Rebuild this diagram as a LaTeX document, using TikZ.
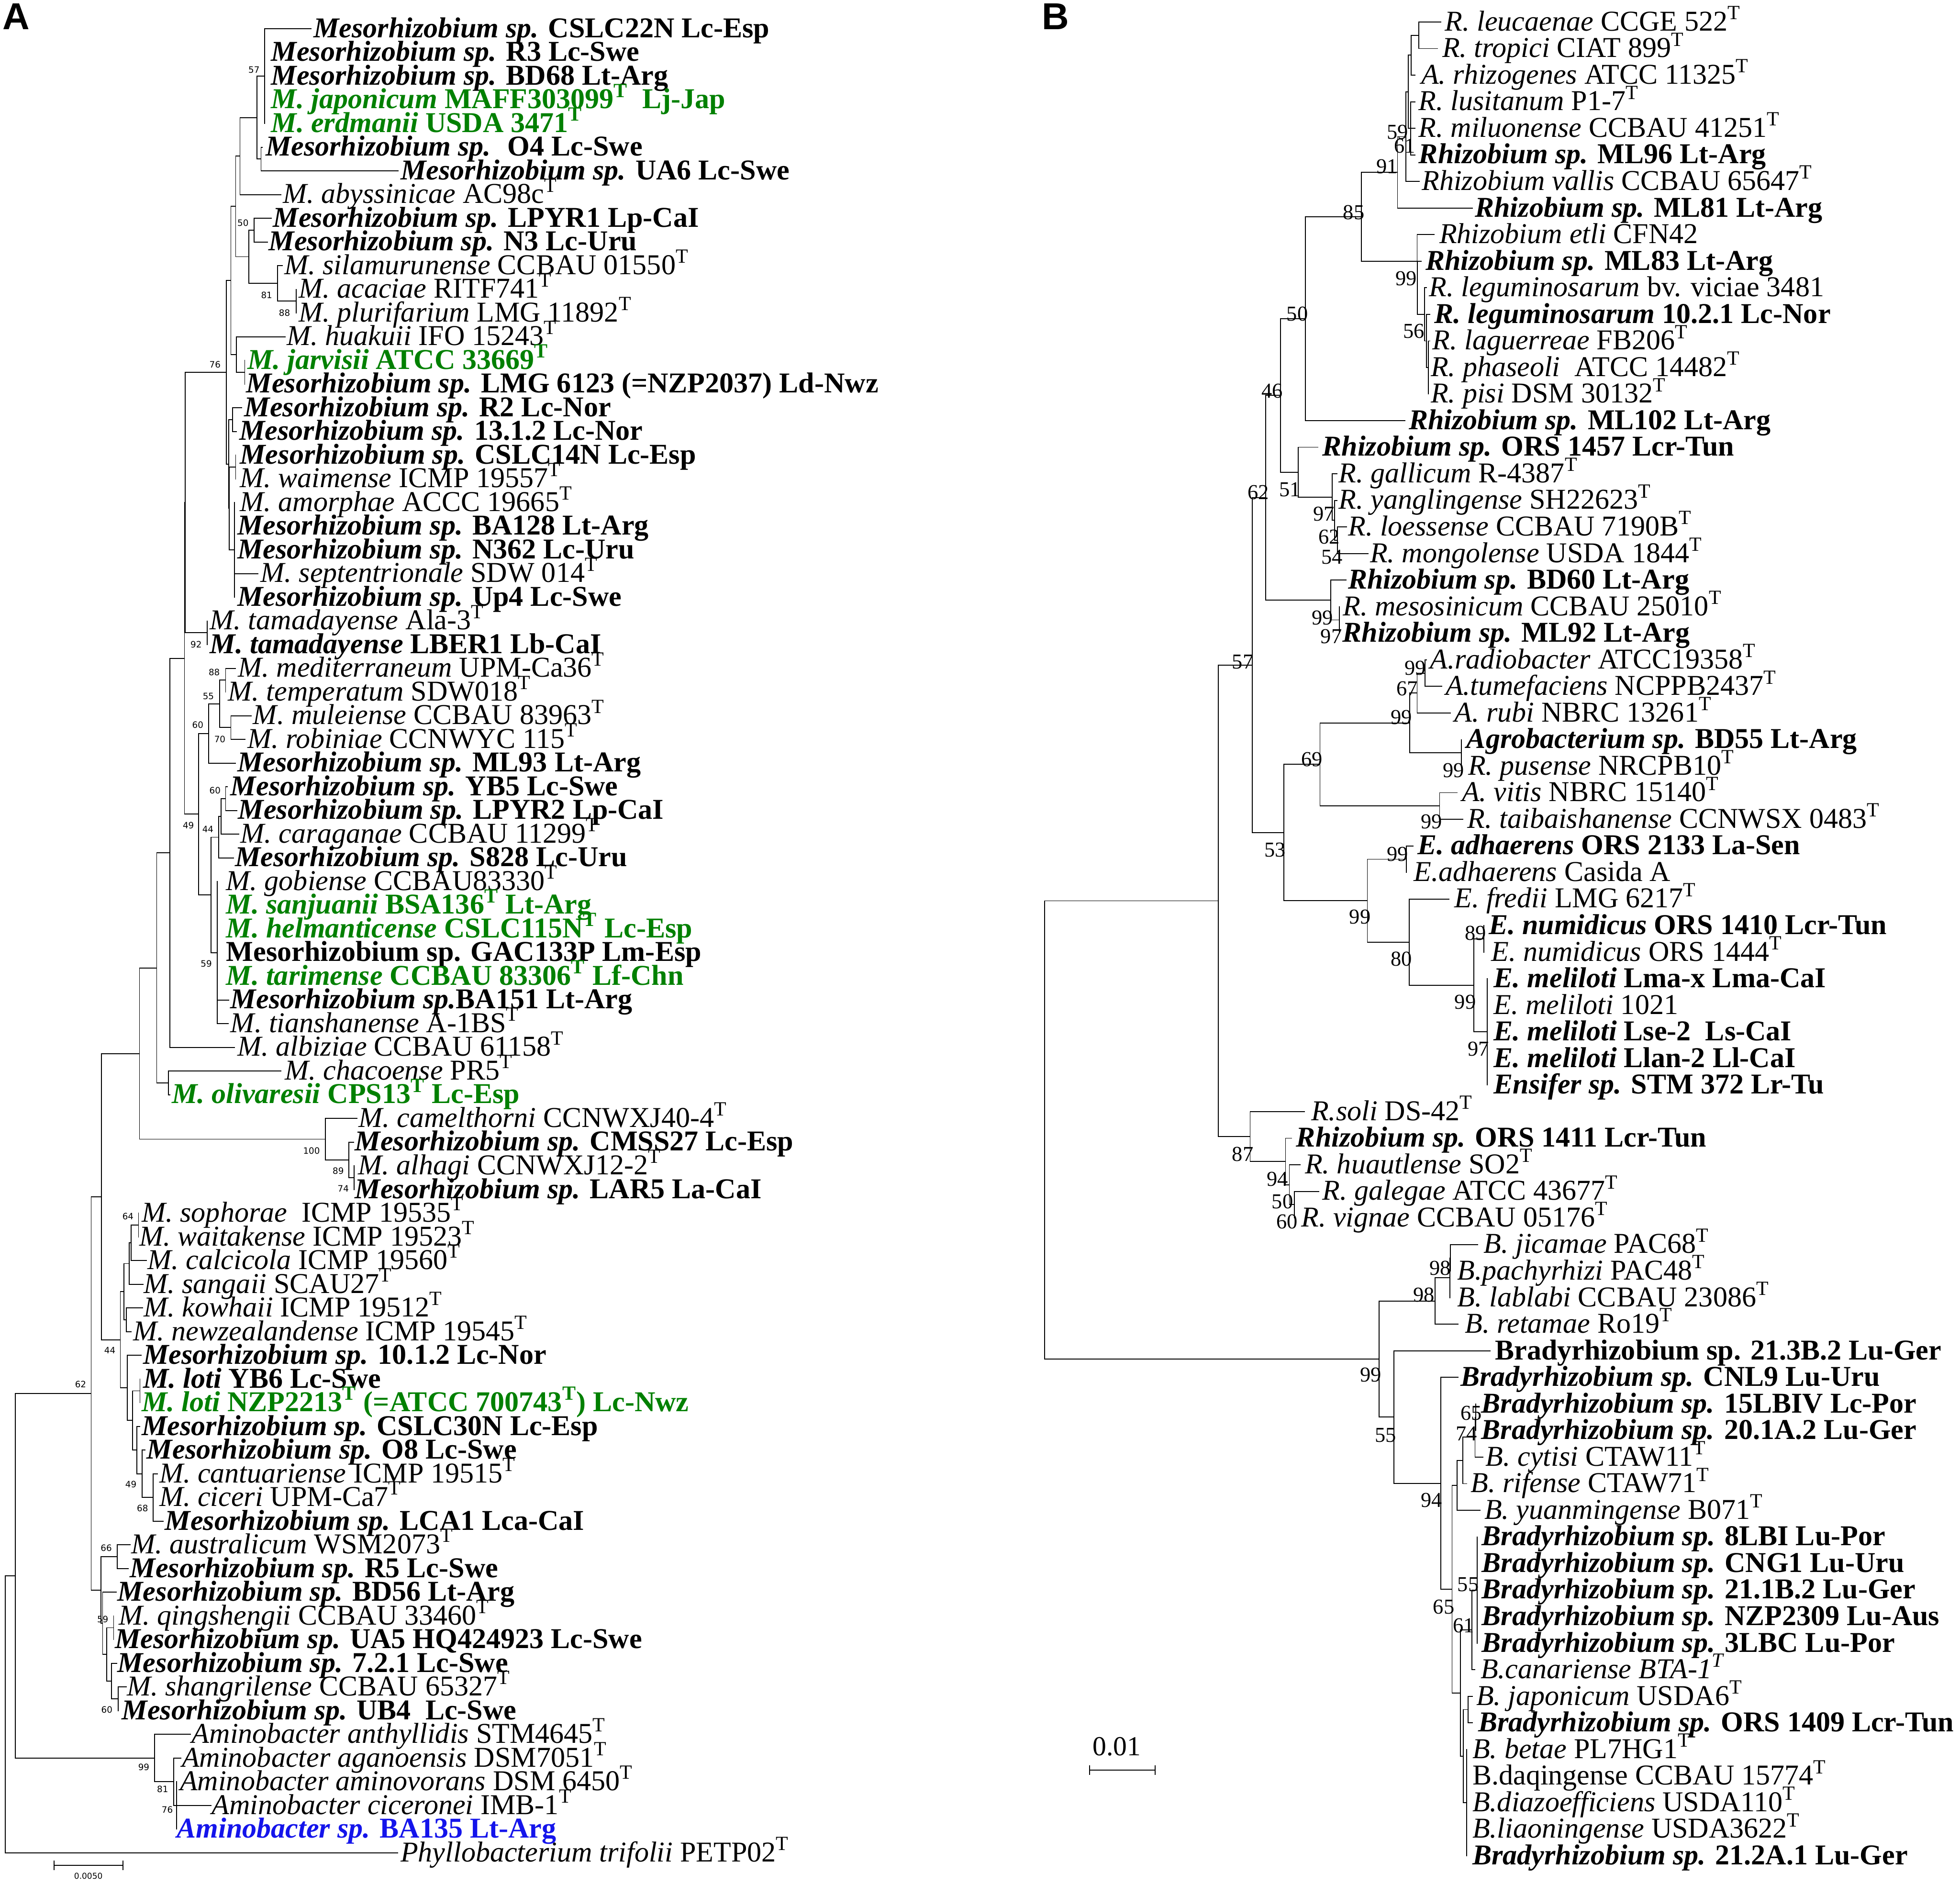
\documentclass[tikz,border=0pt]{standalone}
\usepackage{fontspec}
\setmainfont{Liberation Serif}
\newfontfamily\bsfont{DejaVu Sans}
\newfontfamily\hdfont{Liberation Sans}
\definecolor{lgreen}{RGB}{0,128,0}
\definecolor{lblue}{RGB}{20,20,235}
\newcommand\supT{\textsuperscript{T}}
\newcommand\mzsp[1]{\textbf{\textit{Mesorhizobium sp.} #1}}
\newcommand\rzsp[1]{\textbf{\textit{Rhizobium sp.} #1}}
\newcommand\bzsp[1]{\textbf{\textit{Bradyrhizobium sp.} #1}}
\newcommand\tleaf[5]{\coordinate (#1) at (#2,#3); \node[lbl] (#1l) at (#4,#3) {#5};}
\newcommand\brch[2]{\foreach \cc in {#2}{\draw[br] (#1) |- (\cc);}}
\tikzset{
 lbl/.style={anchor=base west, inner sep=0pt, outer sep=0pt, yshift=-7pt, font=\fontsize{23}{23}\selectfont},
 br/.style={line width=0.7pt, line cap=rect},
 bsa/.style={inner sep=0pt, font=\bsfont\fontsize{7}{7}\selectfont},
 bsb/.style={inner sep=0pt, font=\fontsize{17}{17}\selectfont},
}
\begin{document}
\begin{tikzpicture}[x=1pt,y=-1pt]
\useasboundingbox (0,0) rectangle (1568,1507);
\fill[white] (0,0) rectangle (1568,1507);
% ---------------- panel letters
\node[inner sep=0pt, font=\hdfont\bfseries\fontsize{30}{30}\selectfont] (pA) at (13,13.4) {A};
\node[inner sep=0pt, font=\hdfont\bfseries\fontsize{30}{30}\selectfont] (pB) at (844.5,13.4) {B};
% ================= PANEL A leaves
\tleaf{a1}{249}{23}{250.8}{\mzsp{CSLC22N Lc-Esp}}
\tleaf{a2}{211.6}{41.95}{217}{\mzsp{R3 Lc-Swe}}
\tleaf{a3}{211.6}{60.9}{217}{\mzsp{BD68 Lt-Arg}}
\tleaf{a4}{211.6}{79.85}{217}{\textcolor{lgreen}{\textbf{\textit{M. japonicum} MAFF303099\supT\ \ Lj-Jap}}}
\tleaf{a5}{211.6}{98.8}{217}{\textcolor{lgreen}{\textbf{\textit{M. erdmanii} USDA 3471\supT}}}
\tleaf{a6}{210}{117.75}{212.5}{\mzsp{\ O4 Lc-Swe}}
\tleaf{a7}{318.5}{136.7}{320.5}{\mzsp{UA6 Lc-Swe}}
\tleaf{a8}{224.7}{155.65}{226.5}{\textit{M. abyssinicae} AC98c\supT}
\tleaf{a9}{217}{174.6}{218.5}{\mzsp{LPYR1 Lp-CaI}}
\tleaf{a10}{214}{193.55}{215}{\mzsp{N3 Lc-Uru}}
\tleaf{a11}{226}{212.5}{227.5}{\textit{M. silamurunense} CCBAU 01550\supT}
\tleaf{a12}{236.9}{231.45}{239}{\textit{M. acaciae} RITF741\supT}
\tleaf{a13}{236.9}{250.4}{239}{\textit{M. plurifarium} LMG 11892\supT}
\tleaf{a14}{228}{269.35}{229.5}{\textit{M. huakuii} IFO 15243\supT}
\tleaf{a15}{195.8}{288.3}{198}{\textcolor{lgreen}{\textbf{\textit{M. jarvisii} ATCC 33669\supT}}}
\tleaf{a16}{195.8}{307.25}{197}{\mzsp{LMG 6123 (=NZP2037) Ld-Nwz}}
\tleaf{a17}{193.5}{326.2}{195.5}{\mzsp{R2 Lc-Nor}}
\tleaf{a18}{189}{345.15}{191.5}{\mzsp{13.1.2 Lc-Nor}}
\tleaf{a19}{188.5}{364.1}{192}{\mzsp{CSLC14N Lc-Esp}}
\tleaf{a20}{188.5}{383.05}{192}{\textit{M. waimense} ICMP 19557\supT}
\tleaf{a21}{187.7}{402}{192}{\textit{M. amorphae} ACCC 19665\supT}
\tleaf{a22}{187.7}{420.95}{190}{\mzsp{BA128 Lt-Arg}}
\tleaf{a23}{187.7}{439.9}{190}{\mzsp{N362 Lc-Uru}}
\tleaf{a24}{206.4}{458.85}{208.5}{\textit{M. septentrionale} SDW 014\supT}
\tleaf{a25}{187.7}{477.8}{190}{\mzsp{Up4 Lc-Swe}}
\tleaf{a26}{165.8}{496.75}{168}{\textit{M. tamadayense} Ala-3\supT}
\tleaf{a27}{165.8}{515.7}{168}{\textbf{\textit{M. tamadayense} LBER1 Lb-CaI}}
\tleaf{a28}{188.5}{534.65}{190.5}{\textit{M. mediterraneum} UPM-Ca36\supT}
\tleaf{a29}{180.5}{553.6}{182.5}{\textit{M. temperatum} SDW018\supT}
\tleaf{a30}{201}{572.55}{202.5}{\textit{M. muleiense} CCBAU 83963\supT}
\tleaf{a31}{196}{591.5}{198}{\textit{M. robiniae} CCNWYC 115\supT}
\tleaf{a32}{188.5}{610.45}{190}{\mzsp{ML93 Lt-Arg}}
\tleaf{a33}{182}{629.4}{184.5}{\mzsp{YB5 Lc-Swe}}
\tleaf{a34}{189.4}{648.35}{190.5}{\mzsp{LPYR2 Lp-CaI}}
\tleaf{a35}{191}{667.3}{192.5}{\textit{M. caraganae} CCBAU 11299\supT}
\tleaf{a36}{186.9}{686.25}{188}{\mzsp{S828 Lc-Uru}}
\tleaf{a37}{173.7}{705.2}{181}{\textit{M. gobiense} CCBAU83330\supT}
\tleaf{a38}{173.7}{724.15}{181}{\textcolor{lgreen}{\textbf{\textit{M. sanjuanii} BSA136\supT\ Lt-Arg}}}
\tleaf{a39}{173.7}{743.1}{181}{\textcolor{lgreen}{\textbf{\textit{M. helmanticense} CSLC115N\supT\ Lc-Esp}}}
\tleaf{a40}{173.7}{762.05}{181}{\textbf{Mesorhizobium sp. GAC133P Lm-Esp}}
\tleaf{a41}{173.7}{781}{181}{\textcolor{lgreen}{\textbf{\textit{M. tarimense} CCBAU 83306\supT\ Lf-Chn}}}
\tleaf{a42}{183}{799.95}{184.5}{\textbf{\textit{Mesorhizobium sp.}BA151 Lt-Arg}}
\tleaf{a43}{182.5}{818.9}{184.5}{\textit{M. tianshanense} A-1BS\supT}
\tleaf{a44}{187.7}{837.85}{190}{\textit{M. albiziae} CCBAU 61158\supT}
\tleaf{a45}{224.7}{856.8}{228}{\textit{M. chacoense} PR5\supT}
\tleaf{a46}{136}{875.75}{137.5}{\textcolor{lgreen}{\textbf{\textit{M. olivaresii} CPS13\supT\ Lc-Esp}}}
\tleaf{a47}{285.5}{894.7}{287}{\textit{M. camelthorni} CCNWXJ40-4\supT}
\tleaf{a48}{283}{913.65}{284}{\mzsp{CMSS27 Lc-Esp}}
\tleaf{a49}{283.2}{932.6}{286.5}{\textit{M. alhagi} CCNWXJ12-2\supT}
\tleaf{a50}{283.2}{951.55}{284}{\mzsp{LAR5 La-CaI}}
\tleaf{a51}{110.8}{970.5}{113.5}{\textit{M. sophorae}\ \ ICMP 19535\supT}
\tleaf{a52}{110.8}{989.45}{111.5}{\textit{M. waitakense} ICMP 19523\supT}
\tleaf{a53}{117}{1008.4}{118}{\textit{M. calcicola} ICMP 19560\supT}
\tleaf{a54}{114.5}{1027.35}{115}{\textit{M. sangaii} SCAU27\supT}
\tleaf{a55}{114}{1046.3}{115}{\textit{M. kowhaii} ICMP 19512\supT}
\tleaf{a56}{105}{1065.25}{106.5}{\textit{M. newzealandense} ICMP 19545\supT}
\tleaf{a57}{113}{1084.2}{114.5}{\mzsp{10.1.2 Lc-Nor}}
\tleaf{a58}{112}{1103.15}{114.5}{\textbf{\textit{M. loti} YB6 Lc-Swe}}
\tleaf{a59}{112}{1122.1}{113.5}{\textcolor{lgreen}{\textbf{\textit{M. loti} NZP2213\supT\ (=ATCC 700743\supT) Lc-Nwz}}}
\tleaf{a60}{112}{1141.05}{113.5}{\mzsp{CSLC30N Lc-Esp}}
\tleaf{a61}{116}{1160}{117.5}{\mzsp{O8 Lc-Swe}}
\tleaf{a62}{126}{1178.95}{127.5}{\textit{M. cantuariense} ICMP 19515\supT}
\tleaf{a63}{122.6}{1197.9}{127.5}{\textit{M. ciceri} UPM-Ca7\supT}
\tleaf{a64}{130.5}{1216.85}{132}{\mzsp{LCA1 Lca-CaI}}
\tleaf{a65}{104}{1235.8}{105}{\textit{M. australicum} WSM2073\supT}
\tleaf{a66}{102.7}{1254.75}{104}{\mzsp{R5 Lc-Swe}}
\tleaf{a67}{93}{1273.7}{94}{\mzsp{BD56 Lt-Arg}}
\tleaf{a68}{90.9}{1292.65}{95}{\textit{M. qingshengii} CCBAU 33460\supT}
\tleaf{a69}{90.9}{1311.6}{92}{\mzsp{UA5 HQ424923 Lc-Swe}}
\tleaf{a70}{93.4}{1330.55}{94}{\mzsp{7.2.1 Lc-Swe}}
\tleaf{a71}{101}{1349.5}{101.5}{\textit{M. shangrilense} CCBAU 65327\supT}
\tleaf{a72}{94.6}{1368.45}{97.5}{\mzsp{UB4\ \ Lc-Swe}}
\tleaf{a73}{152.4}{1387.4}{153.5}{\textit{Aminobacter anthyllidis} STM4645\supT}
\tleaf{a74}{144.8}{1406.35}{145.5}{\textit{Aminobacter aganoensis} DSM7051\supT}
\tleaf{a75}{141.4}{1425.3}{144}{\textit{Aminobacter aminovorans} DSM 6450\supT}
\tleaf{a76}{169}{1444.25}{169.5}{\textit{Aminobacter ciceronei} IMB-1\supT}
\tleaf{a77}{141.4}{1463.2}{141.5}{\textcolor{lblue}{\textbf{\textit{Aminobacter sp.} BA135 Lt-Arg}}}
\tleaf{a78}{318}{1482.15}{320.5}{\textit{Phyllobacterium trifolii} PETP02\supT}
% ---------------- panel A internal nodes
\coordinate (aN57a) at (211.6,60.9);
\coordinate (aN57b) at (208.8,127.2);
\coordinate (aN57) at (205.7,94.05);
\coordinate (aN3) at (192,124.85);
\coordinate (aN50) at (203.4,184.08);
\coordinate (aN88) at (236.9,240.93);
\coordinate (aN81) at (222,226.7);
\coordinate (aN199) at (199,205.4);
\coordinate (aN4) at (188.5,165.1);
\coordinate (aNjv) at (195.8,297.8);
\coordinate (aNhk) at (189.1,283.6);
\coordinate (aN5) at (184.7,224.35);
\coordinate (aN1718) at (186.2,335.7);
\coordinate (aN1920) at (188.5,373.6);
\coordinate (aNbig) at (187.7,439.9);
\coordinate (aNQ1) at (183.3,406.75);
\coordinate (aNQ2) at (183.0,371.2);
\coordinate (aN76) at (181,297.8);
\coordinate (aN92) at (165.8,506.2);
\coordinate (aNX1) at (148.1,402.0);
\coordinate (aN88b) at (180.5,544.1);
\coordinate (aN70) at (184.7,582.0);
\coordinate (aN55) at (175.6,563.05);
\coordinate (aN60a) at (167,586.75);
\coordinate (aN60b) at (180.5,638.9);
\coordinate (aN177) at (177,653.1);
\coordinate (aN175) at (175,669.7);
\coordinate (aN59) at (173.7,762.05);
\coordinate (aN44a) at (168.7,715.9);
\coordinate (aN49) at (159,651.3);
\coordinate (aNX2) at (147.6,526.65);
\coordinate (aN136) at (136,682.25);
\coordinate (aN134) at (134.7,866.3);
\coordinate (aN125) at (125.4,774.3);
\coordinate (aN74) at (283.2,942.1);
\coordinate (aN89) at (279.1,927.9);
\coordinate (aN100) at (260.3,911.3);
\coordinate (aN111) at (111.6,842.8);
\coordinate (aN64) at (110.8,980.0);
\coordinate (aN105) at (104.9,994.2);
\coordinate (aN103) at (103.2,1010.8);
\coordinate (aN101) at (101,1055.8);
\coordinate (aN99) at (99,1033.3);
\coordinate (aN112) at (112,1112.6);
\coordinate (aNccm) at (122.6,1197.9);
\coordinate (aN113) at (113.6,1178.95);
\coordinate (aN109) at (109.4,1160.0);
\coordinate (aN106) at (106,1136.3);
\coordinate (aN102) at (101.9,1110.25);
\coordinate (aN44b) at (96.3,1071.8);
\coordinate (aN81b) at (81.3,957.3);
\coordinate (aN66) at (93.8,1245.3);
\coordinate (aND) at (90.9,1302.1);
\coordinate (aNF) at (94.6,1359.0);
\coordinate (aNE) at (89.2,1344.8);
\coordinate (aNC) at (85.5,1323.45);
\coordinate (aNB) at (82.1,1298.6);
\coordinate (aNA) at (80.8,1271.95);
\coordinate (aN62) at (72.9,1114.6);
\coordinate (aN76c) at (141.4,1444.25);
\coordinate (aN81c) at (138.9,1425.3);
\coordinate (aN99c) at (123.7,1406.35);
\coordinate (aN12) at (12.3,1260.5);
\coordinate (aRoot) at (4.2,1371.3);
% ---------------- panel A branches
\brch{aN57a}{a1,a2,a3,a4,a5}
\brch{aN57b}{a6,a7}
\brch{aN57}{aN57a,aN57b}
\brch{aN3}{aN57,a8}
\brch{aN50}{a9,a10}
\brch{aN88}{a12,a13}
\brch{aN81}{a11,aN88}
\brch{aN199}{aN50,aN81}
\brch{aN4}{aN3,aN199}
\brch{aNjv}{a15,a16}
\brch{aNhk}{a14,aNjv}
\brch{aN5}{aN4,aNhk}
\brch{aN1718}{a17,a18}
\brch{aN1920}{a19,a20}
\brch{aNbig}{a21,a22,a23,a24,a25}
\brch{aNQ1}{aN1920,aNbig}
\brch{aNQ2}{aN1718,aNQ1}
\brch{aN76}{aN5,aNQ2}
\brch{aN92}{a26,a27}
\brch{aNX1}{aN76,aN92}
\brch{aN88b}{a28,a29}
\brch{aN70}{a30,a31}
\brch{aN55}{aN88b,aN70}
\brch{aN60a}{aN55,a32}
\brch{aN60b}{a33,a34}
\brch{aN177}{aN60b,a35}
\brch{aN175}{aN177,a36}
\brch{aN59}{a37,a38,a39,a40,a41,a42,a43}
\brch{aN44a}{aN175,aN59}
\brch{aN49}{aN60a,aN44a}
\brch{aNX2}{aNX1,aN49}
\brch{aN136}{aNX2,a44}
\brch{aN134}{a45,a46}
\brch{aN125}{aN136,aN134}
\brch{aN74}{a49,a50}
\brch{aN89}{a48,aN74}
\brch{aN100}{a47,aN89}
\brch{aN111}{aN125,aN100}
\brch{aN64}{a51,a52}
\brch{aN105}{aN64,a53}
\brch{aN103}{aN105,a54}
\brch{aN101}{a55,a56}
\brch{aN99}{aN103,aN101}
\brch{aN112}{a58,a59}
\brch{aNccm}{a62,a63,a64}
\brch{aN113}{a61,aNccm}
\brch{aN109}{a60,aN113}
\brch{aN106}{aN112,aN109}
\brch{aN102}{a57,aN106}
\brch{aN44b}{aN99,aN102}
\brch{aN81b}{aN111,aN44b}
\brch{aN66}{a65,a66}
\brch{aND}{a68,a69}
\brch{aNF}{a71,a72}
\brch{aNE}{a70,aNF}
\brch{aNC}{aND,aNE}
\brch{aNB}{a67,aNC}
\brch{aNA}{aN66,aNB}
\brch{aN62}{aN81b,aNA}
\brch{aN76c}{a75,a76,a77}
\brch{aN81c}{a74,aN76c}
\brch{aN99c}{a73,aN81c}
\brch{aN12}{aN62,aN99c}
\brch{aRoot}{aN12,a78}
% ---------------- panel A bootstrap values
\node[bsa] (sa1) at (203.2,55.7) {57};
\node[bsa] (sa2) at (194.4,178.2) {50};
\node[bsa] (sa3) at (213.3,236.3) {81};
\node[bsa] (sa4) at (227.6,250.2) {88};
\node[bsa] (sa5) at (172,291.7) {76};
\node[bsa] (sa6) at (156.9,515.4) {92};
\node[bsa] (sa7) at (171.4,537.6) {88};
\node[bsa] (sa8) at (166.7,556.9) {55};
\node[bsa] (sa9) at (158.2,580) {60};
\node[bsa] (sa10) at (175.9,591.3) {70};
\node[bsa] (sa11) at (172,632.5) {60};
\node[bsa] (sa12) at (150.7,660.1) {49};
\node[bsa] (sa13) at (166.3,663.3) {44};
\node[bsa] (sa14) at (165,771) {59};
\node[bsa] (sa15) at (249.2,920.5) {100};
\node[bsa] (sa16) at (270.6,936.7) {89};
\node[bsa] (sa17) at (274.6,950.8) {74};
\node[bsa] (sa18) at (102.4,973.1) {64};
\node[bsa] (sa19) at (87.9,1080.3) {44};
\node[bsa] (sa20) at (64.5,1107.4) {62};
\node[bsa] (sa21) at (104.7,1187.5) {49};
\node[bsa] (sa22) at (114,1206.5) {68};
\node[bsa] (sa23) at (85,1238.3) {66};
\node[bsa] (sa24) at (82.2,1295.4) {59};
\node[bsa] (sa25) at (85.5,1367.8) {60};
\node[bsa] (sa26) at (115,1413.5) {99};
\node[bsa] (sa27) at (130.1,1431.2) {81};
\node[bsa] (sa28) at (133.8,1447.7) {76};
% ---------------- panel A scale bar
\coordinate (scA1) at (43.4,1492.3);
\coordinate (scA2) at (98.5,1492.3);
\draw[br] (scA1) -- (scA2);
\draw[br] ([yshift=3.5pt]scA1) -- ([yshift=-3.5pt]scA1);
\draw[br] ([yshift=3.5pt]scA2) -- ([yshift=-3.5pt]scA2);
\node[bsa, font=\bsfont\fontsize{6.5}{6.5}\selectfont] (scAl) at (70.7,1500.6) {0.0050};
% ================= PANEL B leaves
\tleaf{b1}{1152.6}{17.6}{1156}{\textit{R. leucaenae} CCGE 522\supT}
\tleaf{b2}{1149.8}{38.86}{1153.8}{\textit{R. tropici} CIAT 899\supT}
\tleaf{b3}{1132}{60.12}{1137}{\textit{A. rhizogenes} ATCC 11325\supT}
\tleaf{b4}{1132}{81.38}{1135}{\textit{R. lusitanum} P1-7\supT}
\tleaf{b5}{1132}{102.64}{1135}{\textit{R. miluonense} CCBAU 41251\supT}
\tleaf{b6}{1132}{123.9}{1135}{\rzsp{ML96 Lt-Arg}}
\tleaf{b7}{1135.6}{145.16}{1137.5}{\textit{Rhizobium vallis} CCBAU 65647\supT}
\tleaf{b8}{1178}{166.42}{1180}{\rzsp{ML81 Lt-Arg}}
\tleaf{b9}{1147.4}{187.68}{1151.5}{\textit{Rhizobium etli} CFN42}
\tleaf{b10}{1137}{208.94}{1140.5}{\rzsp{ML83 Lt-Arg}}
\tleaf{b11}{1141}{230.2}{1143.3}{\textit{R. leguminosarum} bv. viciae 3481}
\tleaf{b12}{1143.8}{251.46}{1147.6}{\textbf{\textit{R. leguminosarum} 10.2.1 Lc-Nor}}
\tleaf{b13}{1144}{272.72}{1146}{\textit{R. laguerreae} FB206\supT}
\tleaf{b14}{1142.7}{293.98}{1144.7}{\textit{R. phaseoli}\ \ ATCC 14482\supT}
\tleaf{b15}{1142.7}{315.24}{1144.7}{\textit{R. pisi} DSM 30132\supT}
\tleaf{b16}{1123.8}{336.5}{1127}{\rzsp{ML102 Lt-Arg}}
\tleaf{b17}{1054.3}{357.76}{1058}{\rzsp{ORS 1457 Lcr-Tun}}
\tleaf{b18}{1069.6}{379.02}{1071}{\textit{R. gallicum} R-4387\supT}
\tleaf{b19}{1069.5}{400.28}{1071}{\textit{R. yanglingense} SH22623\supT}
\tleaf{b20}{1077.4}{421.54}{1078.5}{\textit{R. loessense} CCBAU 7190B\supT}
\tleaf{b21}{1094.4}{442.8}{1096}{\textit{R. mongolense} USDA 1844\supT}
\tleaf{b22}{1076.7}{464.06}{1078.5}{\rzsp{BD60 Lt-Arg}}
\tleaf{b23}{1071.5}{485.32}{1074.4}{\textit{R. mesosinicum} CCBAU 25010\supT}
\tleaf{b24}{1071.5}{506.58}{1074}{\rzsp{ML92 Lt-Arg}}
\tleaf{b25}{1141}{527.84}{1144}{\textit{A.radiobacter} ATCC19358\supT}
\tleaf{b26}{1153.3}{549.1}{1156.5}{\textit{A.tumefaciens} NCPPB2437\supT}
\tleaf{b27}{1160.4}{570.36}{1163.5}{\textit{A. rubi} NBRC 13261\supT}
\tleaf{b28}{1169.1}{591.62}{1173.3}{\textbf{\textit{Agrobacterium sp.} BD55 Lt-Arg}}
\tleaf{b29}{1169.1}{612.88}{1174.5}{\textit{R. pusense} NRCPB10\supT}
\tleaf{b30}{1165.8}{634.14}{1169.5}{\textit{A. vitis} NBRC 15140\supT}
\tleaf{b31}{1170.3}{655.4}{1174}{\textit{R. taibaishanense} CCNWSX 0483\supT}
\tleaf{b32}{1130.5}{676.66}{1134}{\textbf{\textit{E. adhaerens} ORS 2133 La-Sen}}
\tleaf{b33}{1125}{697.92}{1131}{\textit{E.adhaerens} Casida A}
\tleaf{b34}{1159.2}{719.18}{1163.5}{\textit{E. fredii} LMG 6217\supT}
\tleaf{b35}{1187}{740.44}{1191}{\textbf{\textit{E. numidicus} ORS 1410 Lcr-Tun}}
\tleaf{b36}{1187}{761.7}{1193}{\textit{E. numidicus} ORS 1444\supT}
\tleaf{b37}{1189.8}{782.96}{1195}{\textbf{\textit{E. meliloti} Lma-x Lma-CaI}}
\tleaf{b38}{1189.8}{804.22}{1195}{\textit{E. meliloti} 1021}
\tleaf{b39}{1189.8}{825.48}{1195}{\textbf{\textit{E. meliloti} Lse-2\ \ Ls-CaI}}
\tleaf{b40}{1189.8}{846.74}{1195}{\textbf{\textit{E. meliloti} Llan-2 Ll-CaI}}
\tleaf{b41}{1189.8}{868}{1195}{\textbf{\textit{Ensifer sp.} STM 372 Lr-Tu}}
\tleaf{b42}{1043.7}{889.26}{1049}{\textit{R.soli} DS-42\supT}
\tleaf{b43}{1033.1}{910.52}{1037}{\rzsp{ORS 1411 Lcr-Tun}}
\tleaf{b44}{1040.2}{931.78}{1044}{\textit{R. huautlense} SO2\supT}
\tleaf{b45}{1055}{953.04}{1058}{\textit{R. galegae} ATCC 43677\supT}
\tleaf{b46}{1035.5}{974.3}{1041}{\textit{R. vignae} CCBAU 05176\supT}
\tleaf{b47}{1182}{995.56}{1187}{\textit{B. jicamae} PAC68\supT}
\tleaf{b48}{1160.2}{1016.82}{1166}{\textit{B.pachyrhizi} PAC48\supT}
\tleaf{b49}{1159.9}{1038.08}{1166}{\textit{B. lablabi} CCBAU 23086\supT}
\tleaf{b50}{1166.3}{1059.34}{1172}{\textit{B. retamae} Ro19\supT}
\tleaf{b51}{1192.2}{1080.6}{1196}{\textbf{Bradyrhizobium sp. 21.3B.2 Lu-Ger}}
\tleaf{b52}{1166.3}{1101.86}{1168.5}{\bzsp{CNL9 Lu-Uru}}
\tleaf{b53}{1180.5}{1123.12}{1185}{\bzsp{15LBIV Lc-Por}}
\tleaf{b54}{1180.5}{1144.38}{1185}{\bzsp{20.1A.2 Lu-Ger}}
\tleaf{b55}{1186.3}{1165.64}{1188.5}{\textit{B. cytisi} CTAW11\supT}
\tleaf{b56}{1173.3}{1186.9}{1176.5}{\textit{B. rifense} CTAW71\supT}
\tleaf{b57}{1184}{1208.16}{1187.5}{\textit{B. yuanmingense} B071\supT}
\tleaf{b58}{1181.6}{1229.42}{1185.5}{\bzsp{8LBI Lu-Por}}
\tleaf{b59}{1181.6}{1250.68}{1185.5}{\bzsp{CNG1 Lu-Uru}}
\tleaf{b60}{1181.6}{1271.94}{1185.5}{\bzsp{21.1B.2 Lu-Ger}}
\tleaf{b61}{1181.6}{1293.2}{1185.5}{\bzsp{NZP2309 Lu-Aus}}
\tleaf{b62}{1181.6}{1314.46}{1185.5}{\bzsp{3LBC Lu-Por}}
\tleaf{b63}{1180}{1335.72}{1184.5}{\textit{B.canariense BTA-1\supT}}
\tleaf{b64}{1178}{1356.98}{1181}{\textit{B. japonicum} USDA6\supT}
\tleaf{b65}{1178}{1378.24}{1182.5}{\bzsp{ORS 1409 Lcr-Tun}}
\tleaf{b66}{1173.3}{1399.5}{1178}{\textit{B. betae} PL7HG1\supT}
\tleaf{b67}{1173.3}{1420.76}{1178}{B.daqingense CCBAU 15774\supT}
\tleaf{b68}{1173.3}{1442.02}{1178}{\textit{B.diazoefficiens} USDA110\supT}
\tleaf{b69}{1173.3}{1463.28}{1178}{\textit{B.liaoningense} USDA3622\supT}
\tleaf{b70}{1173.3}{1484.54}{1178}{\bzsp{21.2A.1 Lu-Ger}}
% ---------------- panel B internal nodes
\coordinate (bNlt) at (1135,28.23);
\coordinate (bNrh) at (1129,44.18);
\coordinate (bNlm) at (1128.5,102.64);
\coordinate (bN1252) at (1126.7,73.41);
\coordinate (bN1243) at (1124.6,109.3);
\coordinate (bN91) at (1118,137.86);
\coordinate (bNc) at (1142.7,293.98);
\coordinate (bNb1) at (1141,272.72);
\coordinate (bNb2) at (1139.6,251.46);
\coordinate (bN99a) at (1134,230.2);
\coordinate (bN99b) at (1133.7,208.94);
\coordinate (bN85) at (1089.2,173.4);
\coordinate (bN50) at (1044.2,254.95);
\coordinate (bNJ) at (1070,432.17);
\coordinate (bNI) at (1067.8,416.2);
\coordinate (bNH) at (1065.6,397.6);
\coordinate (bN51) at (1038.5,377.7);
\coordinate (bN46) at (1024.4,316.3);
\coordinate (bN97a) at (1071.5,495.95);
\coordinate (bN99bd) at (1064.5,480.0);
\coordinate (bN62) at (1012.6,398.15);
\coordinate (bN99r) at (1139.9,538.47);
\coordinate (bN67) at (1133.7,554.4);
\coordinate (bN99p) at (1169.1,602.25);
\coordinate (bN99g) at (1127.9,578.3);
\coordinate (bN99v) at (1151.7,644.77);
\coordinate (bN69) at (1056,611.5);
\coordinate (bN99ad) at (1125,687.3);
\coordinate (bN89) at (1187,751.07);
\coordinate (bN97m) at (1189.8,825.48);
\coordinate (bN99m) at (1179.2,788.3);
\coordinate (bN80) at (1127.4,753.7);
\coordinate (bN99e) at (1093.9,720.5);
\coordinate (bN53) at (1027.2,666.0);
\coordinate (bN57) at (1001.8,532.1);
\coordinate (bNV) at (1035.5,963.67);
\coordinate (bNU) at (1031.5,947.7);
\coordinate (bN94) at (1028.4,929.1);
\coordinate (bN87) at (1000.1,909.2);
\coordinate (bNr) at (974.7,720.65);
\coordinate (bN98a) at (1160.2,1006.2);
\coordinate (bN98b) at (1159.9,1022.1);
\coordinate (bN98l) at (1147.9,1040.7);
\coordinate (bN65a) at (1180.5,1133.75);
\coordinate (bN65b) at (1180,1149.7);
\coordinate (bN74) at (1170.3,1168.3);
\coordinate (bN1418) at (1165.8,1188.2);
\coordinate (bN5) at (1181.6,1271.94);
\coordinate (bN55l) at (1177.6,1303.8);
\coordinate (bNjp) at (1174.5,1367.6);
\coordinate (bNbt) at (1173.3,1442.02);
\coordinate (bN1438) at (1170.5,1404.8);
\coordinate (bN61) at (1168.2,1354.3);
\coordinate (bN65l) at (1161.6,1271.25);
\coordinate (bN94b) at (1152.6,1186.55);
\coordinate (bN55) at (1115.1,1133.6);
\coordinate (bN99br) at (1103.3,1087.15);
\coordinate (bRoot) at (835.8,903.9);
% ---------------- panel B branches
\brch{bNlt}{b1,b2}
\brch{bNrh}{bNlt,b3}
\brch{bNlm}{b4,b5,b6}
\brch{bN1252}{bNrh,bNlm}
\brch{bN1243}{bN1252,b7}
\brch{bN91}{bN1243,b8}
\brch{bNc}{b13,b14,b15}
\brch{bNb1}{b12,bNc}
\brch{bNb2}{b11,bNb1}
\brch{bN99a}{b10,bNb2}
\brch{bN99b}{b9,bN99a}
\brch{bN85}{bN91,bN99b}
\brch{bN50}{bN85,b16}
\brch{bNJ}{b20,b21}
\brch{bNI}{b19,bNJ}
\brch{bNH}{b18,bNI}
\brch{bN51}{b17,bNH}
\brch{bN46}{bN50,bN51}
\brch{bN97a}{b23,b24}
\brch{bN99bd}{b22,bN97a}
\brch{bN62}{bN46,bN99bd}
\brch{bN99r}{b25,b26}
\brch{bN67}{bN99r,b27}
\brch{bN99p}{b28,b29}
\brch{bN99g}{bN67,bN99p}
\brch{bN99v}{b30,b31}
\brch{bN69}{bN99g,bN99v}
\brch{bN99ad}{b32,b33}
\brch{bN89}{b35,b36}
\brch{bN97m}{b37,b38,b39,b40,b41}
\brch{bN99m}{bN89,bN97m}
\brch{bN80}{b34,bN99m}
\brch{bN99e}{bN99ad,bN80}
\brch{bN53}{bN69,bN99e}
\brch{bN57}{bN62,bN53}
\brch{bNV}{b45,b46}
\brch{bNU}{b44,bNV}
\brch{bN94}{b43,bNU}
\brch{bN87}{b42,bN94}
\brch{bNr}{bN57,bN87}
\brch{bN98a}{b47,b48}
\brch{bN98b}{bN98a,b49}
\brch{bN98l}{bN98b,b50}
\brch{bN65a}{b53,b54}
\brch{bN65b}{bN65a,b55}
\brch{bN74}{bN65b,b56}
\brch{bN1418}{bN74,b57}
\brch{bN5}{b58,b59,b60,b61,b62}
\brch{bN55l}{bN5,b63}
\brch{bNjp}{b64,b65}
\brch{bNbt}{b66,b67,b68,b69,b70}
\brch{bN1438}{bNjp,bNbt}
\brch{bN61}{bN55l,bN1438}
\brch{bN65l}{bN1418,bN61}
\brch{bN94b}{b52,bN65l}
\brch{bN55}{b51,bN94b}
\brch{bN99br}{bN98l,bN55}
\brch{bRoot}{bNr,bN99br}
% ---------------- panel B bootstrap values
\node[bsb] (sb1) at (1118,105.5) {59};
\node[bsb] (sb2) at (1123.8,116.7) {61};
\node[bsb] (sb3) at (1109.7,133.1) {91};
\node[bsb] (sb4) at (1083,170) {85};
\node[bsb] (sb5) at (1125,222.7) {99};
\node[bsb] (sb6) at (1130.9,265) {56};
\node[bsb] (sb7) at (1037.8,251) {50};
\node[bsb] (sb8) at (1017.8,312.6) {46};
\node[bsb] (sb9) at (1006.5,394) {62};
\node[bsb] (sb10) at (1032,391.6) {51};
\node[bsb] (sb11) at (1059,411.1) {97};
\node[bsb] (sb12) at (1063.3,429.4) {62};
\node[bsb] (sb13) at (1065.6,445.8) {54};
\node[bsb] (sb14) at (1057.9,494.1) {99};
\node[bsb] (sb15) at (1065,509.3) {97};
\node[bsb] (sb16) at (994.2,529.5) {57};
\node[bsb] (sb17) at (1132.1,534.4) {99};
\node[bsb] (sb18) at (1125.7,550.8) {67};
\node[bsb] (sb19) at (1121,574) {99};
\node[bsb] (sb20) at (1049.6,607.7) {69};
\node[bsb] (sb21) at (1162.7,616.2) {99};
\node[bsb] (sb22) at (1145.1,657.2) {99};
\node[bsb] (sb23) at (1020.1,679.7) {53};
\node[bsb] (sb24) at (1118,683.3) {99};
\node[bsb] (sb25) at (1088,733.4) {99};
\node[bsb] (sb26) at (1180.4,746.5) {89};
\node[bsb] (sb27) at (1121,767.3) {80};
\node[bsb] (sb28) at (1172.2,801.5) {99};
\node[bsb] (sb29) at (1182.8,839.3) {97};
\node[bsb] (sb30) at (994.2,923.5) {87};
\node[bsb] (sb31) at (1022,943.1) {94};
\node[bsb] (sb32) at (1026,961.4) {50};
\node[bsb] (sb33) at (1029.6,977.2) {60};
\node[bsb] (sb34) at (1152.1,1014.6) {98};
\node[bsb] (sb35) at (1139.2,1035.8) {98};
\node[bsb] (sb36) at (1096.7,1100) {99};
\node[bsb] (sb37) at (1108.5,1148.2) {55};
\node[bsb] (sb38) at (1176.9,1130.4) {65};
\node[bsb] (sb39) at (1173.3,1146.9) {74};
\node[bsb] (sb40) at (1145.1,1200.2) {94};
\node[bsb] (sb41) at (1174.5,1267.5) {55};
\node[bsb] (sb42) at (1155,1285.3) {65};
\node[bsb] (sb43) at (1171,1300.5) {61};
% ---------------- panel B scale bar
\coordinate (scB1) at (871.7,1416);
\coordinate (scB2) at (924,1416);
\draw[br] (scB1) -- (scB2);
\draw[br] ([yshift=3.5pt]scB1) -- ([yshift=-3.5pt]scB1);
\draw[br] ([yshift=3.5pt]scB2) -- ([yshift=-3.5pt]scB2);
\node[inner sep=0pt, font=\fontsize{22}{22}\selectfont] (scBl) at (893.4,1397) {0.01};
\end{tikzpicture}
\end{document}
